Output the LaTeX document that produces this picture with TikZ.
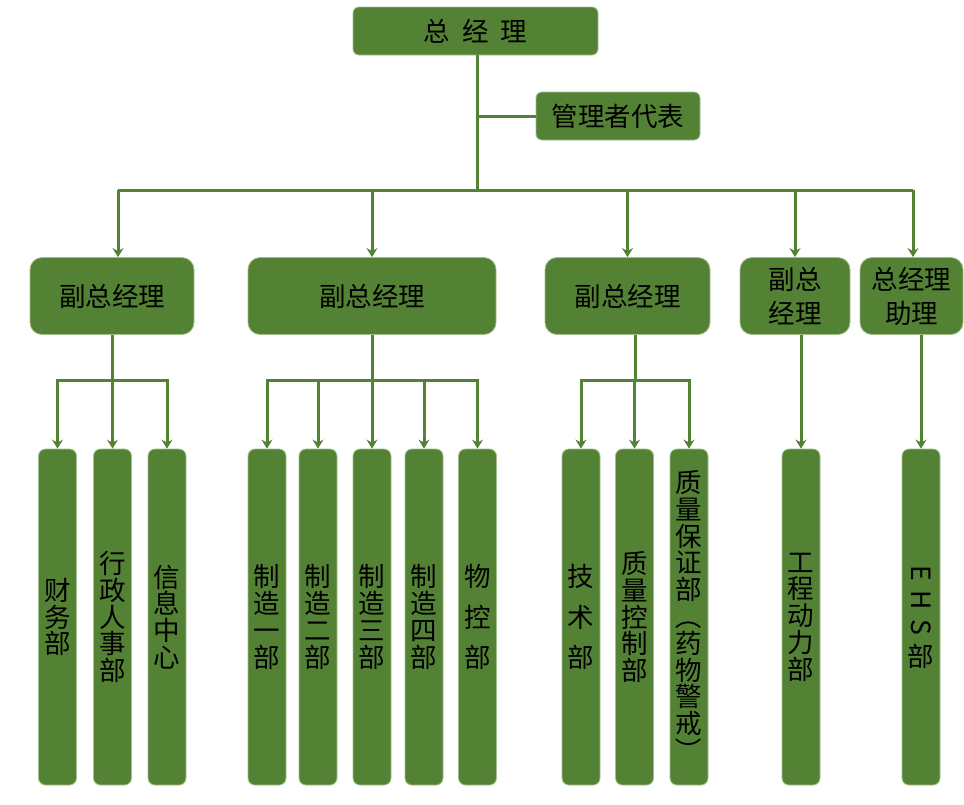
\documentclass[tikz,border=0pt]{standalone}
\usepackage{fontspec}
\setmainfont{Noto Sans CJK SC}
\usepackage{graphicx}
\usetikzlibrary{calc,arrows.meta,positioning}
\definecolor{orggreen}{HTML}{548235}
\definecolor{orgedge}{HTML}{A3BD8C}
\newcommand\sideways[1]{\rotatebox[origin=c]{-90}{#1}}

\begin{document}
\begin{tikzpicture}[x=1pt,y=-1pt,
    box/.style={draw=orgedge,line width=.8pt,fill=orggreen,rounded corners=6pt,inner sep=0pt,align=center,text=black,font=\fontsize{26.5}{34}\selectfont},
    vpbox/.style={box,rounded corners=12pt,minimum height=77pt},
    deptbox/.style={box,rounded corners=7pt,minimum width=38pt,minimum height=336pt,font=\fontsize{26.5}{26.8}\selectfont},
    link/.style={draw=orggreen,line width=3pt},
    arr/.style={link,-{Stealth[width=11pt,length=9pt,inset=3pt]}}]

  \useasboundingbox (0,0) rectangle (964,804);

  %%%% Top of the chart %%%%
  \node[box,minimum width=245pt,minimum height=48pt] (gm) at (475.5,31) {总\hspace{12pt}经\hspace{12pt}理};
  \node[box,minimum width=164pt,minimum height=48pt] (rep) at (618,116) {管理者代表};

  %% second row
  \node[vpbox,minimum width=164pt] (vpA) at (112,296) {副总经理};
  \node[vpbox,minimum width=248pt] (vpB) at (372,296) {副总经理};
  \node[vpbox,minimum width=165pt] (vpC) at (627.5,296) {副总经理};
  \node[vpbox,minimum width=110pt] (vpD) at (795,296) {副总\\经理};
  \node[vpbox,minimum width=103pt] (asst) at (911.5,296) {总经理\\助理};

  %% departments, text runs top to bottom
  \foreach \n/\x/\t in {fin/57.5/{财\\务\\部}, hr/112.5/{行\\政\\人\\事\\部}, info/167/{信\\息\\中\\心},
      mfa/267/{制\\造\\一\\部}, mfb/318/{制\\造\\二\\部}, mfc/372/{制\\造\\三\\部}, mfd/424/{制\\造\\四\\部},
      mat/477.5/{物\\[14pt]控\\[14pt]部},
      tech/581/{技\\[14pt]术\\[14pt]部}, qc/634.5/{质\\量\\控\\制\\部},
      qa/689/{质\\量\\保\\证\\部\\\sideways{（}\\药\\物\\警\\戒\\\sideways{）}},
      eng/801/{工\\程\\动\\力\\部}, ehs/921/{\sideways{E}\\\sideways{H}\\\sideways{S}\\[3pt]部}}{
    \node[deptbox] (\n) at (\x,617) {\t};
  }

  %%%% Connectors %%%%
  \coordinate (trunk) at (477,190);
  \draw[link] (gm.south -| trunk) -- (trunk);
  \draw[link] (rep.west) -- (rep.west -| trunk);
  \draw[link] ([xshift=6pt]vpA.north |- trunk) -- ([xshift=1.5pt]asst.north |- trunk);
  \foreach \v/\dx in {vpA/6,vpB/0,vpC/0,vpD/0,asst/1.5}{
    \draw[arr] ([xshift=\dx pt]\v.north |- trunk) -- ([xshift=\dx pt]\v.north);
  }

  % first group
  \coordinate (jA) at (112,380);
  \draw[link] (vpA.south -| jA) -- (jA);
  \foreach \d in {fin,hr,info}
    \draw[arr] (jA) -| (\d.north);

  % second group
  \coordinate (jB) at (372,380);
  \draw[link] (vpB.south -| jB) -- (jB);
  \foreach \d in {mfa,mfb,mfc,mfd,mat}
    \draw[arr] (jB) -| (\d.north);

  % third group
  \coordinate (jC) at (635,380);
  \draw[link] (vpC.south -| jC) -- (jC);
  \foreach \d in {tech,qc,qa}
    \draw[arr] (jC) -| (\d.north);

  % single lines
  \draw[arr] (vpD.south -| eng.north) -- (eng.north);
  \draw[arr] (asst.south -| ehs.north) -- (ehs.north);

\end{tikzpicture}
\end{document}
